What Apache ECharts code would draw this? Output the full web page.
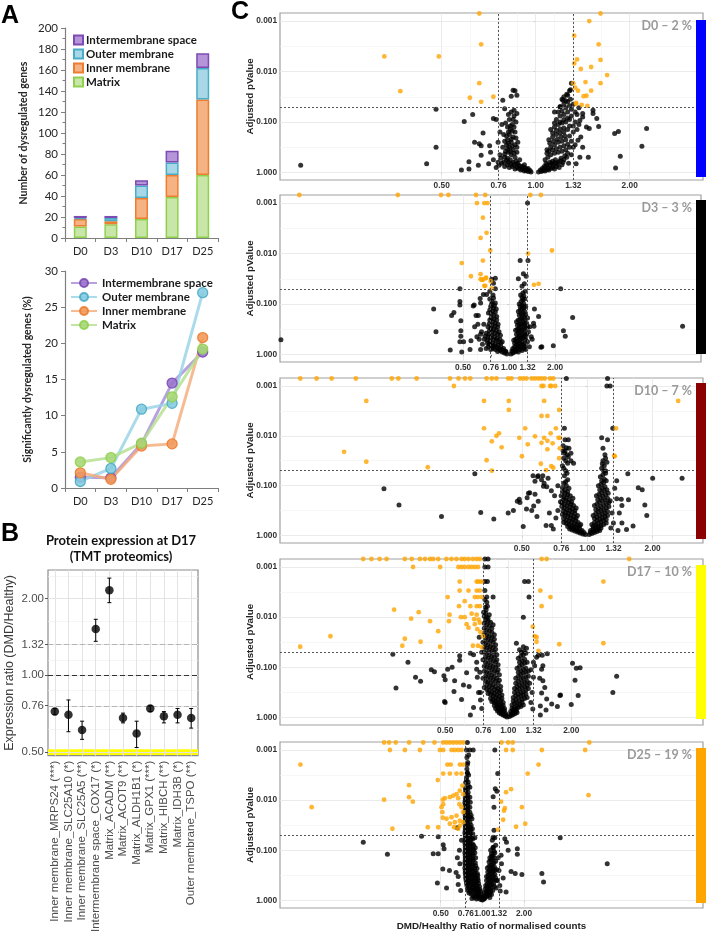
<!DOCTYPE html>
<html><head><meta charset="utf-8">
<script src="https://cdn.jsdelivr.net/npm/echarts@6/dist/echarts.min.js"></script>
<style>html,body{margin:0;padding:0;background:#fff}#c{width:709px;height:935px}</style>
</head><body><div id="c"></div>
<script>
// ================= DATA =================
// Panel A
const days = ['D0','D3','D10','D17','D25'];
const compartments = ['Intermembrane space','Outer membrane','Inner membrane','Matrix'];
const countMatrix = [11,13,18,39,60];
const countInner  = [7,3,20,21,72];
const countOuter  = [1,3,12,12,30];
const countIMS    = [2,2,5,11,14];
const pctIMS    = [1.5,1.4,6.1,14.5,18.8];
const pctOuter  = [0.9,2.7,10.9,11.7,27.0];
const pctInner  = [2.1,1.2,5.8,6.1,20.8];
const pctMatrix = [3.6,4.2,6.2,12.6,19.2];
// Panel B
const proteins = ['Inner membrane_MRPS24 (***)','Inner membrane_SLC25A10 (*)','Inner membrane_SLC25A5 (**)','Intermembrane space_COX17 (*)','Matrix_ACADM (**)','Matrix_ACOT9 (**)','Matrix_ALDH1B1 (*)','Matrix_GPX1 (***)','Matrix_HIBCH (**)','Matrix_IDH3B (*)','Outer membrane_TSPO (**)'];
const protRatio = [0.72,0.70,0.61,1.52,2.16,0.68,0.59,0.74,0.69,0.70,0.68];
const protLow   = [0.70,0.60,0.56,1.36,1.93,0.65,0.52,0.72,0.65,0.65,0.62];
const protHigh  = [0.74,0.80,0.66,1.66,2.41,0.71,0.66,0.76,0.72,0.74,0.74];
const protTicks = [0.5,0.76,1,1.32,2];
// Panel C : points are [log2(DMD/Healthy ratio), -log10(adjusted pValue)]
const ratioTicks = [0.5,0.76,1,1.32,2];
const pTicks = [1,0.1,0.01,0.001];
const d0Sig = [[-0.60,3.15],[0.69,3.15],[0.57,3.0],[0.41,2.71],[-0.58,2.54],[0.67,2.54],[-1.61,2.30],[-1.03,2.30],[0.44,2.24],[0.41,2.16],[0.69,2.23],[0.59,2.09],[0.48,2.05],[0.76,1.93],[-0.60,1.77],[0.40,1.77],[0.53,1.79],[0.69,1.77],[0.42,1.68],[0.45,1.62],[0.59,1.62],[-1.44,1.61],[-0.70,1.48],[-0.45,1.50],[0.51,1.51],[0.54,1.52],[-0.58,1.40],[0.43,1.36],[0.49,1.34],[0.55,1.32],[0.43,1.38]];
const d0NS = [[-2.50,0.14],[-1.06,1.25],[-1.06,0.50],[-1.16,0.17],[-0.76,1.01],[-0.67,1.15],[-0.79,0.05],[-0.71,0.07],[-0.71,0.21],[-0.61,0.14],[-0.65,0.60],[-0.60,0.57],[-0.56,0.78],[-0.58,0.53],[-0.49,0.53],[-0.58,0.34],[-0.50,0.17],[-0.45,1.07],[-0.42,1.05],[-0.38,0.80],[-0.35,1.43],[-0.33,1.26],[-0.24,1.63],[-0.22,1.62],[-0.26,1.51],[-0.20,1.53],[-0.23,1.23],[-0.20,1.17],[1.18,0.87],[1.13,0.52],[0.84,0.77],[0.88,0.81],[0.90,0.32],[0.85,0.09],[0.61,1.23],[0.65,1.07],[0.67,0.91],[0.57,0.87],[0.61,1.17],[0.37,1.64],[0.34,1.53],[0.38,1.77],[0.26,1.30],[0.29,1.43],[0.50,1.17],[0.47,1.03],[0.54,0.90],[0.45,0.64],[0.50,0.50],[0.47,0.30],[0.43,0.17],[0.56,0.30],[0.40,0.50],
[-0.05,0.01],[-0.08,0.02],[-0.10,0.04],[-0.12,0.03],[-0.14,0.06],[-0.16,0.05],[-0.18,0.08],[-0.20,0.10],[-0.22,0.07],[-0.25,0.12],[-0.28,0.10],[-0.30,0.15],[-0.33,0.12],[-0.36,0.18],[-0.40,0.20],[-0.42,0.10],[-0.15,0.12],[-0.20,0.16],[-0.24,0.20],[-0.27,0.25],[-0.30,0.28],[-0.33,0.30],[-0.22,0.30],[-0.26,0.35],[-0.29,0.40],[-0.32,0.42],[-0.24,0.45],[-0.28,0.50],[-0.31,0.55],[-0.22,0.55],[-0.26,0.60],[-0.30,0.65],[-0.24,0.70],[-0.28,0.75],[-0.22,0.80],[-0.27,0.85],[-0.30,0.90],[-0.25,0.95],[-0.21,1.00],[-0.28,1.05],[-0.23,1.12],[-0.26,1.20],[-0.19,0.60],[-0.20,0.40],[-0.35,0.50],[-0.38,0.35],[-0.45,0.25],[-0.48,0.40],[-0.40,0.60],[-0.34,0.75],[-0.36,0.95],[-0.17,0.25],[-0.12,0.15],[-0.08,0.08],
[0.03,0.01],[0.06,0.02],[0.08,0.04],[0.10,0.03],[0.12,0.06],[0.14,0.05],[0.16,0.08],[0.18,0.10],[0.20,0.07],[0.22,0.12],[0.25,0.10],[0.28,0.15],[0.10,0.10],[0.12,0.15],[0.15,0.20],[0.18,0.22],[0.21,0.25],[0.24,0.20],[0.27,0.28],[0.30,0.25],[0.33,0.30],[0.10,0.25],[0.13,0.30],[0.16,0.35],[0.20,0.38],[0.24,0.40],[0.28,0.42],[0.32,0.45],[0.36,0.50],[0.12,0.45],[0.16,0.50],[0.20,0.55],[0.24,0.60],[0.28,0.62],[0.32,0.65],[0.38,0.62],[0.14,0.65],[0.18,0.70],[0.22,0.75],[0.26,0.78],[0.30,0.80],[0.34,0.85],[0.40,0.80],[0.44,0.85],[0.16,0.85],[0.20,0.90],[0.24,0.95],[0.28,0.98],[0.32,1.00],[0.36,1.05],[0.42,1.00],[0.46,0.95],[0.22,1.05],[0.26,1.12],[0.30,1.15],[0.34,1.20],[0.38,1.25],[0.44,1.15],[0.26,1.30],[0.30,1.35],[0.34,1.40],[0.40,1.35],[0.46,1.28],[0.30,1.50],[0.33,1.55],[0.28,1.45],[0.36,1.62],[0.20,1.20],[0.50,1.10],[0.48,0.70],[0.42,0.55],[0.38,0.35],[0.35,0.18]];
const d0Core = [[-0.06,0.04],[-0.09,0.06],[-0.11,0.09],[-0.13,0.11],[-0.17,0.13],[-0.19,0.18],[-0.21,0.22],[-0.23,0.14],[-0.26,0.17],[-0.29,0.20],[-0.31,0.24],[-0.34,0.20],[-0.37,0.28],[-0.39,0.14],[-0.23,0.38],[-0.27,0.42],[-0.30,0.47],[-0.33,0.36],[-0.20,0.50],[-0.25,0.52],[-0.29,0.58],[-0.33,0.62],[-0.21,0.68],[-0.26,0.66],[-0.31,0.72],[-0.25,0.82],[-0.29,0.80],[-0.23,0.90],[-0.27,0.92],[-0.32,0.98],[-0.24,1.05],[-0.29,1.15],
[0.05,0.05],[0.07,0.08],[0.09,0.12],[0.11,0.18],[0.13,0.10],[0.15,0.14],[0.17,0.18],[0.19,0.15],[0.21,0.19],[0.23,0.16],[0.26,0.23],[0.29,0.20],[0.31,0.33],[0.34,0.38],[0.12,0.38],[0.14,0.42],[0.18,0.45],[0.22,0.47],[0.26,0.50],[0.30,0.53],[0.34,0.56],[0.15,0.58],[0.19,0.62],[0.23,0.66],[0.27,0.70],[0.31,0.72],[0.36,0.72],[0.18,0.78],[0.22,0.83],[0.26,0.86],[0.30,0.88],[0.36,0.92],[0.40,0.92],[0.20,0.98],[0.26,1.00],[0.30,1.05],[0.34,1.08],[0.38,1.12],[0.28,1.22],[0.32,1.28],[0.36,1.32],[0.32,1.42],[0.37,1.45],[0.42,1.20],[0.24,1.20]];
const d3Sig = [[-4.56,3.16],[-2.42,3.16],[-1.48,3.16],[-1.32,3.16],[-0.72,3.16],[-0.52,3.16],[0.46,3.16],[0.69,3.16],[-0.70,3.0],[-0.54,3.0],[-0.47,3.0],[-0.57,2.71],[-0.49,2.41],[-0.62,2.31],[-0.41,2.06],[0.93,2.06],[0.41,2.0],[-0.57,1.86],[-1.03,1.81],[-0.83,1.55],[-0.62,1.59],[-0.62,1.49],[-0.57,1.48],[-0.50,1.52],[-0.40,1.45],[-0.52,1.36],[-0.38,1.31],[0.54,1.38],[0.64,1.40],[-0.59,1.48],[-0.51,1.51],[-0.54,1.36]];
const d3NS = [[0.40,3.0],[0.24,1.86],[0.41,1.86],[0.31,1.60],[-0.38,1.49],[-0.30,1.51],[-0.34,1.41],[-1.07,1.30],[1.12,1.30],[-1.64,0.90],[-1.59,0.45],[-1.07,1.05],[-1.07,0.98],[-1.25,0.77],[-1.20,0.83],[-0.78,0.96],[-0.72,0.77],[-0.67,0.77],[-0.63,1.11],[-0.56,1.19],[-0.49,1.19],[1.38,0.73],[1.18,0.47],[1.22,0.36],[3.77,0.56],[-4.96,0.29],[0.64,0.75],[0.54,0.56],[0.71,0.15],[0.96,0.17],[-1.07,0.25],[-0.99,0.25],[-1.28,0.09],[-0.70,0.35],[-0.85,0.10],[-1.03,0.05],[-1.05,0.67],[-1.05,0.47],[-1.05,0.36],[-0.83,0.27],[-0.76,0.98],[-0.62,1.02],[0.69,0.14],[0.53,0.62],[-0.75,0.55],[-0.68,0.60],[-0.62,0.40],[0.50,0.30],[0.55,0.90],
[-0.05,0.01],[-0.10,0.03],[-0.15,0.05],[-0.20,0.08],[-0.25,0.06],[-0.30,0.10],[-0.35,0.12],[-0.40,0.10],[-0.45,0.15],[-0.50,0.12],[-0.12,0.12],[-0.18,0.15],[-0.24,0.18],[-0.30,0.20],[-0.36,0.22],[-0.42,0.25],[-0.48,0.28],[-0.54,0.30],[-0.15,0.25],[-0.20,0.30],[-0.26,0.32],[-0.32,0.35],[-0.38,0.38],[-0.44,0.40],[-0.50,0.42],[-0.22,0.45],[-0.28,0.48],[-0.34,0.50],[-0.40,0.52],[-0.46,0.55],[-0.24,0.60],[-0.30,0.62],[-0.36,0.65],[-0.42,0.68],[-0.27,0.75],[-0.33,0.78],[-0.39,0.80],[-0.45,0.82],[-0.28,0.90],[-0.34,0.92],[-0.40,0.95],[-0.30,1.02],[-0.37,1.05],[-0.42,1.10],[-0.35,1.18],[-0.55,0.60],[-0.60,0.45],[-0.58,0.20],[-0.65,0.30],[-0.62,0.10],[-0.08,0.06],[-0.30,1.30],[-0.42,1.25],
[0.04,0.01],[0.08,0.03],[0.12,0.05],[0.16,0.07],[0.20,0.05],[0.24,0.10],[0.28,0.08],[0.32,0.12],[0.36,0.10],[0.08,0.12],[0.12,0.15],[0.16,0.18],[0.20,0.20],[0.24,0.22],[0.28,0.25],[0.32,0.20],[0.36,0.28],[0.40,0.25],[0.10,0.28],[0.14,0.30],[0.18,0.33],[0.22,0.36],[0.26,0.38],[0.30,0.40],[0.34,0.42],[0.38,0.40],[0.42,0.45],[0.14,0.48],[0.18,0.50],[0.22,0.52],[0.26,0.55],[0.30,0.58],[0.34,0.60],[0.38,0.62],[0.16,0.65],[0.20,0.68],[0.24,0.70],[0.28,0.72],[0.32,0.75],[0.36,0.78],[0.40,0.72],[0.20,0.85],[0.24,0.88],[0.28,0.90],[0.32,0.92],[0.36,0.95],[0.22,1.00],[0.26,1.05],[0.30,1.08],[0.34,1.10],[0.25,1.18],[0.30,1.22],[0.35,1.25],[0.28,1.35],[0.33,1.40],[0.20,1.50],[0.37,1.55],[0.45,0.55],[0.48,0.35],[0.44,0.15]];
const d3Core = [[-0.07,0.06],[-0.12,0.08],[-0.17,0.10],[-0.22,0.12],[-0.27,0.14],[-0.33,0.16],[-0.38,0.17],[-0.43,0.20],[-0.47,0.22],[-0.18,0.22],[-0.23,0.25],[-0.28,0.28],[-0.34,0.29],[-0.40,0.32],[-0.46,0.34],[-0.52,0.36],[-0.19,0.38],[-0.25,0.40],[-0.31,0.42],[-0.37,0.45],[-0.43,0.47],[-0.25,0.54],[-0.31,0.56],[-0.37,0.58],[-0.43,0.61],[-0.27,0.68],[-0.33,0.70],[-0.39,0.72],[-0.30,0.84],[-0.36,0.86],[-0.42,0.88],[-0.32,0.97],[-0.38,1.00],[-0.34,1.12],
[0.06,0.07],[0.10,0.08],[0.14,0.10],[0.18,0.12],[0.22,0.15],[0.26,0.16],[0.30,0.18],[0.34,0.16],[0.12,0.22],[0.16,0.25],[0.20,0.27],[0.24,0.30],[0.28,0.32],[0.32,0.34],[0.36,0.35],[0.16,0.40],[0.20,0.43],[0.24,0.46],[0.28,0.48],[0.32,0.50],[0.36,0.52],[0.40,0.55],[0.18,0.58],[0.22,0.60],[0.26,0.62],[0.30,0.66],[0.34,0.68],[0.22,0.78],[0.26,0.80],[0.30,0.82],[0.34,0.85],[0.24,0.95],[0.28,0.97],[0.32,1.00],[0.28,1.13],[0.32,1.16]];
const d10Sig = [[-4.39,3.15],[-4.14,3.15],[-3.91,3.15],[-3.54,3.15],[-2.99,3.15],[-2.89,3.15],[-2.61,3.15],[-2.10,3.15],[-1.97,3.15],[-1.87,3.15],[-1.79,3.15],[-1.54,3.15],[-1.46,3.15],[-1.39,3.15],[-1.21,3.15],[-1.16,3.15],[-1.03,3.15],[-0.98,3.15],[-0.93,3.15],[-0.85,3.15],[-0.80,3.15],[-0.75,3.15],[-0.70,3.15],[-0.65,3.15],[-0.57,3.15],[-0.52,3.15],[-2.04,3.0],[-0.70,3.0],[-0.67,3.0],[-0.57,3.0],[-0.55,3.0],[-0.49,3.0],[-3.38,2.70],[-1.58,2.70],[-1.20,2.70],[-0.66,2.70],[1.39,2.70],[-1.20,2.52],[-0.43,2.52],[-0.70,2.40],[-0.61,2.40],[-1.58,2.15],[-0.95,2.15],[-0.48,2.15],[0.44,2.15],[-1.35,2.05],[-1.39,2.0],[-1.46,1.89],[-1.31,1.77],[-1.04,1.96],[-0.91,1.83],[-0.80,1.99],[-0.70,1.86],[-0.66,1.96],[-0.61,1.90],[-0.53,1.85],[-0.61,1.73],[-0.56,2.05],[-0.42,1.96],[-0.44,1.96],[-0.42,1.75],[-0.43,1.55],[-1.0,1.59],[-1.54,1.51],[-3.72,1.68],[-3.38,1.48],[-2.44,1.37],[-0.71,1.44],[-0.55,1.39],[-0.52,1.36],[-0.63,1.31],[-1.46,1.30],[0.42,1.59],[0.41,1.60]];
const d10NS = [[-0.32,3.15],[0.31,3.15],[0.30,3.0],[0.35,3.0],[-0.35,2.15],[0.39,2.15],[-0.34,1.92],[-0.29,1.92],[-0.32,1.76],[0.22,1.96],[0.31,1.92],[0.24,1.75],[-0.37,1.70],[-0.25,1.65],[-0.21,1.45],[0.30,1.47],[0.28,1.30],[-1.72,1.24],[-3.11,0.94],[-2.88,0.61],[-2.23,0.38],[-1.63,0.46],[-1.43,0.33],[-1.21,0.45],[0.62,1.24],[1.0,1.15],[1.45,1.15],[-0.83,1.20],[-0.75,1.20],[-0.68,1.20],[-0.60,1.15],[-0.67,0.99],[-0.80,0.83],[-0.90,0.85],[-1.03,0.66],[-1.13,0.50],[-1.07,0.69],[-1.04,0.73],[-0.98,0.18],[-0.92,0.76],[-0.93,0.53],[-0.85,0.50],[-0.82,0.59],[-0.77,0.38],[-0.75,0.69],[-0.88,0.86],[-0.80,1.09],[-0.76,1.18],[-0.70,1.12],[-0.66,1.05],[-0.62,0.98],[-0.63,0.20],[-0.52,0.13],[-0.58,0.45],[-0.55,0.90],[0.78,0.96],[0.84,0.92],[0.88,0.61],[0.91,0.40],[0.45,0.74],[0.52,0.73],[0.53,0.60],[0.63,0.72],[0.49,0.45],[0.53,0.25],[0.60,0.12],[0.70,0.19],[0.47,0.10],[0.42,0.95],[0.45,1.10],
[-0.03,0.02],[-0.07,0.03],[-0.11,0.05],[-0.15,0.07],[-0.19,0.09],[-0.23,0.11],[-0.27,0.13],[-0.08,0.10],[-0.12,0.14],[-0.16,0.16],[-0.20,0.18],[-0.24,0.20],[-0.28,0.22],[-0.32,0.24],[-0.36,0.26],[-0.10,0.22],[-0.14,0.26],[-0.18,0.30],[-0.22,0.32],[-0.26,0.35],[-0.30,0.38],[-0.34,0.40],[-0.38,0.42],[-0.15,0.40],[-0.19,0.44],[-0.23,0.47],[-0.27,0.50],[-0.31,0.52],[-0.35,0.55],[-0.39,0.58],[-0.17,0.55],[-0.21,0.60],[-0.25,0.63],[-0.29,0.66],[-0.33,0.70],[-0.37,0.72],[-0.41,0.68],[-0.22,0.75],[-0.26,0.80],[-0.30,0.82],[-0.34,0.85],[-0.38,0.88],[-0.28,0.95],[-0.32,1.00],[-0.36,1.05],[-0.30,1.12],[-0.35,1.20],[-0.33,1.30],[-0.38,1.40],[-0.30,1.45],[-0.36,1.55],[-0.31,1.62],[-0.25,1.50],[-0.34,1.70],[-0.28,1.75],[-0.37,1.80],[-0.45,0.50],[-0.48,0.35],[-0.50,0.80],[-0.45,1.00],[-0.55,0.20],
[0.03,0.02],[0.07,0.04],[0.11,0.06],[0.15,0.08],[0.19,0.10],[0.05,0.10],[0.09,0.13],[0.13,0.16],[0.17,0.18],[0.21,0.20],[0.25,0.22],[0.29,0.25],[0.07,0.22],[0.11,0.26],[0.15,0.30],[0.19,0.32],[0.23,0.35],[0.27,0.38],[0.31,0.40],[0.09,0.40],[0.13,0.44],[0.17,0.47],[0.21,0.50],[0.25,0.52],[0.29,0.55],[0.33,0.58],[0.11,0.60],[0.15,0.63],[0.19,0.66],[0.23,0.70],[0.27,0.72],[0.31,0.75],[0.35,0.70],[0.14,0.80],[0.18,0.83],[0.22,0.86],[0.26,0.90],[0.30,0.92],[0.17,1.00],[0.21,1.03],[0.25,1.06],[0.29,1.10],[0.20,1.18],[0.24,1.22],[0.28,1.25],[0.22,1.35],[0.26,1.40],[0.24,1.50],[0.28,1.55],[0.27,1.62],[0.38,0.45],[0.40,0.25],[0.36,0.15]];
const d10Core = [[-0.05,0.06],[-0.09,0.07],[-0.13,0.09],[-0.17,0.12],[-0.21,0.14],[-0.25,0.16],[-0.30,0.18],[-0.12,0.19],[-0.16,0.22],[-0.20,0.24],[-0.24,0.27],[-0.28,0.29],[-0.32,0.31],[-0.36,0.33],[-0.17,0.35],[-0.21,0.38],[-0.25,0.41],[-0.29,0.44],[-0.33,0.46],[-0.37,0.49],[-0.19,0.50],[-0.23,0.54],[-0.27,0.57],[-0.31,0.60],[-0.35,0.62],[-0.39,0.65],[-0.24,0.68],[-0.28,0.72],[-0.32,0.76],[-0.36,0.78],[-0.40,0.80],[-0.30,0.88],[-0.34,0.92],[-0.38,0.96],[-0.33,1.08],[-0.31,1.25],[-0.36,1.35],[-0.33,1.50],[-0.29,1.58],[-0.35,1.65],
[0.05,0.06],[0.09,0.08],[0.13,0.11],[0.17,0.13],[0.21,0.15],[0.09,0.18],[0.13,0.21],[0.17,0.24],[0.21,0.27],[0.25,0.30],[0.29,0.32],[0.11,0.34],[0.15,0.37],[0.19,0.40],[0.23,0.43],[0.27,0.45],[0.31,0.48],[0.13,0.52],[0.17,0.55],[0.21,0.58],[0.25,0.61],[0.29,0.64],[0.33,0.66],[0.16,0.72],[0.20,0.76],[0.24,0.79],[0.28,0.82],[0.32,0.85],[0.19,0.92],[0.23,0.95],[0.27,0.98],[0.22,1.10],[0.26,1.13],[0.25,1.30],[0.23,1.44]];
const d17Sig = [[-2.30,3.16],[-2.17,3.16],[-2.04,3.16],[-1.93,3.16],[-1.64,3.16],[-1.53,3.16],[-1.40,3.16],[-1.32,3.16],[-1.24,3.16],[-1.19,3.16],[-1.11,3.16],[-0.98,3.16],[-0.90,3.16],[-0.82,3.16],[-0.74,3.16],[-0.69,3.16],[-0.63,3.16],[-0.56,3.16],[-0.50,3.16],[-0.45,3.16],[0.53,3.16],[0.61,3.16],[1.92,3.16],[-1.51,3.0],[-1.08,3.0],[-0.79,3.0],[-0.74,3.0],[-0.69,3.0],[-0.63,3.0],[-0.58,3.0],[-0.53,3.0],[-0.48,3.0],[-0.77,2.71],[-0.50,2.71],[-0.48,2.71],[-0.45,2.71],[-0.42,2.71],[1.51,2.71],[-0.77,2.53],[-0.63,2.53],[-0.50,2.53],[-0.45,2.53],[0.51,2.53],[-0.96,2.40],[-0.53,2.40],[-0.48,2.40],[-0.42,2.40],[0.67,2.40],[-0.69,2.32],[-0.78,2.22],[-0.60,2.22],[-0.50,2.22],[-0.45,2.22],[0.53,2.22],[-1.81,2.15],[-0.93,2.05],[-0.75,2.0],[-0.69,2.0],[-0.58,2.07],[-0.50,2.05],[-0.54,1.96],[-0.47,1.95],[-1.42,2.10],[-1.54,1.97],[-1.24,1.92],[-0.66,1.86],[-0.53,1.86],[-0.45,1.89],[-0.63,1.79],[-0.49,1.76],[-1.11,1.72],[-0.44,1.70],[-2.82,1.62],[-1.64,1.57],[-1.39,1.51],[-1.68,1.43],[-1.08,1.41],[-3.30,1.41],[-0.56,1.43],[-0.48,1.43],[-0.42,1.40],[0.39,1.81],[0.42,1.62],[0.45,1.60],[0.81,1.46],[1.51,1.48],[0.48,1.33],[-0.94,1.92],[-0.40,1.62],[0.45,1.51]];
const d17NS = [[-0.37,3.16],[-0.32,3.16],[-0.37,3.0],[-0.32,3.0],[-0.37,2.71],[-0.33,2.71],[0.26,2.71],[0.32,2.71],[-0.37,2.53],[-0.34,2.40],[-0.24,2.40],[0.33,2.40],[0.24,2.0],[-1.83,1.26],[-1.59,1.10],[-1.47,0.80],[-1.39,0.72],[-1.78,0.59],[-1.22,0.95],[-1.17,0.91],[-1.02,0.83],[-1.0,0.75],[-0.96,0.96],[-0.89,1.0],[-0.85,0.73],[-0.86,0.52],[-1.0,0.30],[-0.74,0.36],[-0.77,1.23],[-0.77,1.14],[-0.71,0.65],[-0.66,0.89],[-0.62,0.62],[-0.50,1.10],[-0.50,0.96],[-0.49,0.80],[-0.47,0.50],[-0.44,0.35],[-0.42,0.18],[-0.55,1.25],[-0.60,1.28],[1.02,1.08],[1.08,0.98],[1.14,0.99],[1.06,0.74],[1.11,0.44],[1.0,0.26],[0.82,0.44],[0.78,0.22],[0.69,0.27],[1.66,0.50],[1.72,0.82],[0.50,0.78],[0.53,0.96],[0.55,0.73],[0.58,0.60],[0.53,0.49],[0.61,0.37],[0.51,0.23],[0.51,0.05],[0.42,1.03],[0.55,1.03],[0.48,1.24],[0.54,1.24],[0.62,1.27],[0.45,1.20],[0.40,1.10],[0.36,0.95],[0.60,0.15],[-0.55,0.20],[-0.60,0.05],[-1.01,0.32],[0.83,0.45],[0.39,0.17],
[-0.02,0.01],[-0.05,0.03],[-0.08,0.05],[-0.11,0.07],[-0.14,0.09],[-0.04,0.08],[-0.08,0.12],[-0.12,0.14],[-0.16,0.16],[-0.20,0.18],[-0.06,0.18],[-0.10,0.21],[-0.14,0.24],[-0.18,0.27],[-0.22,0.30],[-0.26,0.32],[-0.08,0.30],[-0.12,0.34],[-0.16,0.37],[-0.20,0.40],[-0.24,0.43],[-0.28,0.46],[-0.32,0.48],[-0.10,0.45],[-0.14,0.50],[-0.18,0.53],[-0.22,0.56],[-0.26,0.60],[-0.30,0.62],[-0.34,0.65],[-0.38,0.60],[-0.12,0.62],[-0.16,0.68],[-0.20,0.72],[-0.24,0.75],[-0.28,0.78],[-0.32,0.80],[-0.36,0.82],[-0.40,0.78],[-0.14,0.85],[-0.18,0.90],[-0.22,0.92],[-0.26,0.95],[-0.30,0.98],[-0.34,1.00],[-0.38,1.02],[-0.16,1.05],[-0.20,1.10],[-0.24,1.12],[-0.28,1.15],[-0.32,1.18],[-0.36,1.20],[-0.40,1.15],[-0.18,1.25],[-0.22,1.30],[-0.26,1.32],[-0.30,1.35],[-0.34,1.38],[-0.38,1.40],[-0.20,1.45],[-0.24,1.50],[-0.28,1.52],[-0.32,1.55],[-0.36,1.58],[-0.40,1.50],[-0.22,1.65],[-0.26,1.70],[-0.30,1.72],[-0.34,1.75],[-0.38,1.78],[-0.24,1.85],[-0.28,1.90],[-0.32,1.92],[-0.36,1.95],[-0.30,2.05],[-0.34,2.00],[-0.38,2.02],[-0.36,2.20],[-0.34,2.30],[-0.39,2.10],[-0.42,1.30],[-0.45,0.90],[-0.44,0.50],[-0.46,1.60],
[0.02,0.02],[0.05,0.04],[0.08,0.06],[0.11,0.08],[0.14,0.10],[0.04,0.12],[0.08,0.15],[0.12,0.17],[0.16,0.20],[0.20,0.22],[0.24,0.25],[0.06,0.25],[0.10,0.28],[0.14,0.30],[0.18,0.33],[0.22,0.36],[0.26,0.38],[0.30,0.40],[0.08,0.40],[0.12,0.44],[0.16,0.47],[0.20,0.50],[0.24,0.52],[0.28,0.55],[0.32,0.58],[0.10,0.58],[0.14,0.62],[0.18,0.65],[0.22,0.68],[0.26,0.70],[0.30,0.72],[0.34,0.68],[0.12,0.78],[0.16,0.82],[0.20,0.85],[0.24,0.88],[0.28,0.90],[0.32,0.92],[0.14,0.98],[0.18,1.02],[0.22,1.05],[0.26,1.08],[0.30,1.10],[0.16,1.18],[0.20,1.22],[0.24,1.25],[0.28,1.28],[0.13,1.48],[0.24,1.41],[0.29,1.38],[0.18,1.35],[0.36,0.30],[0.38,0.50],[0.40,0.80]];
const d17Core = [[-0.04,0.05],[-0.07,0.07],[-0.10,0.10],[-0.13,0.12],[-0.17,0.13],[-0.06,0.14],[-0.10,0.17],[-0.14,0.20],[-0.18,0.22],[-0.22,0.24],[-0.08,0.24],[-0.12,0.27],[-0.16,0.30],[-0.20,0.33],[-0.24,0.36],[-0.28,0.38],[-0.10,0.38],[-0.14,0.42],[-0.18,0.45],[-0.22,0.48],[-0.26,0.51],[-0.30,0.54],[-0.34,0.56],[-0.12,0.54],[-0.16,0.58],[-0.20,0.62],[-0.24,0.66],[-0.28,0.69],[-0.32,0.71],[-0.36,0.72],[-0.14,0.74],[-0.18,0.78],[-0.22,0.82],[-0.26,0.85],[-0.30,0.88],[-0.34,0.90],[-0.38,0.92],[-0.16,0.95],[-0.20,1.00],[-0.24,1.02],[-0.28,1.05],[-0.32,1.08],[-0.36,1.10],[-0.18,1.15],[-0.22,1.20],[-0.26,1.22],[-0.30,1.25],[-0.34,1.28],[-0.38,1.30],[-0.20,1.36],[-0.24,1.40],[-0.28,1.42],[-0.32,1.45],[-0.36,1.48],[-0.22,1.56],[-0.26,1.60],[-0.30,1.62],[-0.34,1.65],[-0.38,1.68],[-0.26,1.78],[-0.30,1.82],[-0.34,1.85],[-0.38,1.88],[-0.32,1.98],[-0.36,2.08],[-0.35,2.15],[-0.33,2.22],[-0.37,2.35],
[0.04,0.07],[0.07,0.09],[0.10,0.12],[0.13,0.14],[0.06,0.18],[0.10,0.20],[0.14,0.23],[0.18,0.26],[0.22,0.30],[0.08,0.33],[0.12,0.36],[0.16,0.40],[0.20,0.43],[0.24,0.45],[0.28,0.47],[0.10,0.50],[0.14,0.54],[0.18,0.57],[0.22,0.60],[0.26,0.62],[0.30,0.64],[0.12,0.68],[0.16,0.72],[0.20,0.76],[0.24,0.78],[0.28,0.80],[0.32,0.82],[0.16,0.90],[0.20,0.93],[0.24,0.96],[0.28,0.98],[0.18,1.10],[0.22,1.13],[0.26,1.16],[0.21,1.30],[0.25,1.32]];
const d25Sig = [[-2.36,3.15],[-2.24,3.15],[-2.08,3.15],[-1.76,3.15],[-1.42,3.15],[-1.15,3.15],[-0.94,3.15],[-0.86,3.15],[-0.78,3.15],[-0.70,3.15],[-0.62,3.15],[-0.54,3.15],[-0.46,3.15],[0.46,3.15],[0.62,3.15],[0.73,3.15],[2.57,3.15],[-2.22,3.0],[-1.86,3.0],[-1.50,3.0],[-1.02,3.0],[-0.94,3.0],[-0.74,3.0],[-0.66,3.0],[-0.58,3.0],[-0.50,3.0],[0.57,3.0],[0.73,3.0],[1.43,3.0],[2.47,3.0],[-4.37,2.71],[1.35,2.71],[-0.84,2.71],[-0.76,2.71],[-0.54,2.71],[-0.46,2.71],[-0.94,2.53],[-0.78,2.53],[-0.62,2.53],[-0.50,2.53],[1.09,2.53],[-1.07,2.40],[-1.76,2.30],[0.69,2.22],[0.57,2.16],[2.55,2.10],[-0.48,2.29],[-0.54,2.19],[-0.62,2.12],[-0.70,2.09],[-0.78,2.06],[-0.90,2.04],[-0.95,2.01],[-0.46,2.12],[-0.58,2.04],[-1.76,2.06],[-1.67,1.97],[-2.36,2.01],[-4.10,1.86],[0.45,1.97],[0.54,1.84],[0.52,1.79],[0.95,1.86],[-0.98,1.86],[-0.94,1.92],[-0.96,1.76],[-0.86,1.63],[-0.95,1.65],[-0.74,1.66],[-0.62,1.69],[-0.54,1.59],[-0.46,1.56],[-0.54,1.49],[-0.68,1.46],[-0.58,1.43],[-0.50,1.86],[-0.55,1.92],[-0.46,1.76],[-0.66,1.56],[-0.78,1.53],[0.50,1.61],[0.81,1.47],[1.03,1.53],[-2.16,1.43],[-1.31,1.46],[-1.06,1.46],[0.38,1.41]];
const d25NS = [[-0.36,3.15],[-0.38,3.0],[-0.30,3.0],[-0.22,3.0],[0.30,3.0],[-0.36,2.71],[-0.36,2.53],[0.37,2.53],[0.26,2.07],[0.28,1.86],[0.31,2.23],[0.35,2.18],[-1.46,1.28],[-1.06,1.27],[-2.86,1.16],[-2.28,0.92],[1.87,1.25],[3.0,0.73],[-0.94,1.11],[-0.92,1.03],[-1.18,0.93],[-1.06,0.93],[-0.95,0.63],[-0.79,0.60],[-1.08,0.35],[-0.86,0.25],[-0.58,0.48],[-0.58,0.32],[-0.63,0.56],[-0.54,0.73],[-0.60,0.85],[-0.55,1.00],[-0.50,1.20],[-0.52,0.20],[0.26,1.26],[0.26,1.06],[0.54,1.23],[0.58,1.16],[0.62,1.00],[0.84,1.03],[0.84,0.92],[0.69,0.58],[0.79,0.54],[0.95,0.52],[1.43,0.54],[1.47,0.37],[0.46,0.73],[0.34,0.40],[0.57,0.17],[0.43,0.19],[0.18,0.13],[-0.60,1.45],[0.50,0.45],[0.45,0.90],
[-0.25,0.04],[-0.19,0.06],[-0.14,0.03],[-0.09,0.05],[-0.04,0.02],[0.0,0.01],[0.04,0.03],[-0.32,0.15],[-0.27,0.13],[-0.21,0.16],[-0.15,0.14],[-0.09,0.15],[-0.03,0.12],[-0.36,0.25],[-0.30,0.23],[-0.24,0.26],[-0.18,0.24],[-0.12,0.25],[-0.06,0.22],[-0.38,0.35],[-0.33,0.34],[-0.27,0.36],[-0.21,0.33],[-0.15,0.35],[-0.09,0.34],[-0.40,0.45],[-0.35,0.44],[-0.29,0.46],[-0.23,0.43],[-0.17,0.45],[-0.11,0.44],[-0.41,0.55],[-0.36,0.54],[-0.30,0.56],[-0.24,0.53],[-0.18,0.55],[-0.12,0.54],[-0.42,0.65],[-0.37,0.64],[-0.31,0.66],[-0.25,0.63],[-0.19,0.65],[-0.13,0.64],[-0.42,0.75],[-0.36,0.74],[-0.30,0.76],[-0.24,0.73],[-0.17,0.75],[-0.41,0.85],[-0.35,0.84],[-0.29,0.86],[-0.23,0.83],[-0.16,0.85],[-0.42,0.95],[-0.36,0.94],[-0.30,0.96],[-0.24,0.93],[-0.18,0.95],[-0.41,1.05],[-0.35,1.04],[-0.29,1.06],[-0.23,1.03],[-0.17,1.05],[-0.42,1.15],[-0.36,1.14],[-0.30,1.16],[-0.24,1.13],[-0.41,1.25],[-0.35,1.24],[-0.29,1.26],[-0.23,1.23],[-0.18,1.25],[-0.42,1.35],[-0.36,1.34],[-0.30,1.36],[-0.23,1.33],[-0.41,1.45],[-0.35,1.44],[-0.29,1.46],[-0.24,1.43],[-0.42,1.55],[-0.36,1.54],[-0.30,1.56],[-0.41,1.65],[-0.35,1.64],[-0.29,1.66],[-0.25,1.63],[-0.42,1.75],[-0.36,1.74],[-0.30,1.76],[-0.41,1.85],[-0.35,1.84],[-0.30,1.86],[-0.42,1.95],[-0.36,1.94],[-0.29,1.96],[-0.41,2.05],[-0.35,2.04],[-0.30,2.06],[-0.40,2.15],[-0.34,2.16],[-0.41,2.25],[-0.35,2.24],[-0.30,2.26],[-0.40,2.35],[-0.34,2.36],[-0.38,2.45],[-0.33,2.50],[-0.37,2.62],[-0.37,2.85],[-0.33,2.90],
[0.02,0.03],[0.06,0.05],[0.10,0.08],[0.14,0.10],[0.18,0.06],[0.22,0.12],[0.05,0.15],[0.09,0.18],[0.13,0.20],[0.17,0.22],[0.21,0.25],[0.25,0.20],[0.29,0.28],[0.33,0.25],[0.08,0.30],[0.12,0.33],[0.16,0.36],[0.20,0.38],[0.24,0.40],[0.28,0.42],[0.32,0.45],[0.36,0.40],[0.10,0.48],[0.14,0.50],[0.18,0.53],[0.22,0.56],[0.26,0.58],[0.30,0.60],[0.34,0.62],[0.12,0.65],[0.16,0.68],[0.20,0.70],[0.24,0.72],[0.28,0.75],[0.32,0.78],[0.18,0.85],[0.22,0.88],[0.26,0.90],[0.30,0.95],[0.20,1.00],[0.26,1.05],[0.32,1.10],[0.24,1.20],[0.30,1.25],[0.28,1.40],[0.38,0.85],[0.40,0.60],[0.42,0.30]];
const d25Core = [[-0.22,0.09],[-0.16,0.10],[-0.11,0.10],[-0.06,0.08],[-0.01,0.07],[-0.34,0.20],[-0.28,0.19],[-0.22,0.21],[-0.16,0.20],[-0.10,0.19],[-0.04,0.18],[-0.37,0.30],[-0.31,0.29],[-0.25,0.31],[-0.19,0.30],[-0.13,0.29],[-0.07,0.28],[-0.39,0.40],[-0.33,0.39],[-0.27,0.41],[-0.21,0.40],[-0.15,0.39],[-0.10,0.40],[-0.40,0.50],[-0.34,0.49],[-0.28,0.51],[-0.22,0.50],[-0.16,0.49],[-0.11,0.50],[-0.41,0.60],[-0.35,0.59],[-0.29,0.61],[-0.23,0.60],[-0.17,0.59],[-0.41,0.70],[-0.35,0.69],[-0.29,0.71],[-0.23,0.70],[-0.16,0.69],[-0.41,0.80],[-0.35,0.79],[-0.29,0.81],[-0.22,0.80],[-0.41,0.90],[-0.35,0.89],[-0.29,0.91],[-0.22,0.90],[-0.41,1.00],[-0.35,0.99],[-0.29,1.01],[-0.21,1.00],[-0.41,1.10],[-0.35,1.09],[-0.29,1.11],[-0.21,1.10],[-0.41,1.20],[-0.35,1.19],[-0.28,1.21],[-0.41,1.30],[-0.35,1.29],[-0.28,1.31],[-0.41,1.40],[-0.35,1.39],[-0.28,1.41],[-0.41,1.50],[-0.35,1.49],[-0.27,1.50],[-0.41,1.60],[-0.35,1.59],[-0.41,1.70],[-0.35,1.69],[-0.27,1.70],[-0.41,1.80],[-0.35,1.79],[-0.41,1.90],[-0.35,1.89],[-0.41,2.00],[-0.35,1.99],[-0.40,2.10],[-0.35,2.10],[-0.40,2.20],[-0.34,2.30],[-0.38,2.40],[-0.36,2.55],[-0.35,2.75],
[0.04,0.08],[0.08,0.11],[0.12,0.14],[0.16,0.16],[0.20,0.18],[0.07,0.23],[0.11,0.26],[0.15,0.28],[0.19,0.30],[0.23,0.32],[0.27,0.34],[0.10,0.40],[0.14,0.43],[0.18,0.45],[0.22,0.47],[0.26,0.50],[0.30,0.52],[0.13,0.57],[0.17,0.60],[0.21,0.63],[0.25,0.65],[0.29,0.67],[0.16,0.77],[0.20,0.80],[0.24,0.82],[0.28,0.85],[0.22,0.93],[0.28,0.98]];
const volcanoLabels = ['D0 \u2013 2 %','D3 \u2013 3 %','D10 \u2013 7 %','D17 \u2013 10 %','D25 \u2013 19 %'];

// ================= LAYOUT / STYLE =================
const L2 = Math.log2;
const FA = 'Lato, "Open Sans", sans-serif';
const FR = '"Liberation Sans", Arial, sans-serif';
const barFill = ['#b595d8','#a8d8e8','#f5b283','#c8e6a8'];
const barEdge = ['#7d4bb3','#4bacc6','#ed7d31','#8fd14f'];
const lineCol = ['rgba(160,130,215,0.75)','rgba(150,210,230,0.8)','rgba(244,170,120,0.8)','rgba(180,222,140,0.8)'];
const dotFill = ['#9a74cd','#86cbe0','#f29a5c','#aad779'];
const vol = [
  {sig:d0Sig, ns:d0NS.concat(d0Core), xmin:-2.72, xmax:1.78, grid:{left:280,top:13,width:423,height:167}, bar:'#0000ff', bt:20, bb:177},
  {sig:d3Sig, ns:d3NS.concat(d3Core), xmin:-4.98, xmax:4.17, grid:{left:280,top:195,width:421,height:167}, bar:'#000000', bt:200, bb:354},
  {sig:d10Sig, ns:d10NS.concat(d10Core), xmin:-4.70, xmax:1.77, grid:{left:280,top:378,width:423,height:165}, bar:'#8b0000', bt:383, bb:539},
  {sig:d17Sig, ns:d17NS.concat(d17Core), xmin:-3.62, xmax:3.09, grid:{left:280,top:559,width:423,height:166}, bar:'#ffff00', bt:565, bb:719},
  {sig:d25Sig, ns:d25NS.concat(d25Core), xmin:-4.86, xmax:5.30, grid:{left:280,top:742,width:423,height:166}, bar:'#ffa500', bt:748, bb:903}
];

const grids = [
  {left:65, top:28, width:153, height:210},
  {left:65, top:271, width:153, height:217},
  {left:48, top:570, width:150, height:194, show:true, borderColor:'#8c8c8c', borderWidth:1.2, backgroundColor:'#fff'}
];
vol.forEach(v => grids.push(Object.assign({show:true, borderColor:'#a0a0a0', borderWidth:1.2, backgroundColor:'#fff'}, v.grid)));

const xAxes = [], yAxes = [], series = [];
const catAxisA = gi => ({type:'category', gridIndex:gi, data:days, boundaryGap:true,
  axisLine:{lineStyle:{color:'#7f7f7f', width:1.2}}, axisTick:{show:true, alignWithLabel:false, length:4, lineStyle:{color:'#7f7f7f'}},
  axisLabel:{color:'#262626', fontFamily:FA, fontSize:11, margin:8}});
xAxes.push(catAxisA(0)); xAxes.push(catAxisA(1));
yAxes.push({type:'value', gridIndex:0, min:0, max:200, interval:20, name:'Number of dysregulated genes', nameLocation:'middle', nameGap:36, nameRotate:90, nameMoveOverlap:false,
  nameTextStyle:{fontFamily:FA, fontWeight:'bold', fontSize:10.5, color:'#262626'},
  axisLine:{show:true, lineStyle:{color:'#7f7f7f', width:1.2}}, axisTick:{show:true, length:4, lineStyle:{color:'#7f7f7f'}},
  minorTick:{show:true, splitNumber:2, length:2.5, lineStyle:{color:'#7f7f7f'}},
  splitLine:{show:false}, axisLabel:{color:'#262626', fontFamily:FA, fontSize:11.5, margin:7}});
yAxes.push({type:'value', gridIndex:1, min:0, max:30, interval:5, name:'Significantly dysregulated genes (%)', nameLocation:'middle', nameGap:32, nameRotate:90, nameMoveOverlap:false,
  nameTextStyle:{fontFamily:FA, fontWeight:'bold', fontSize:10.5, color:'#262626'},
  axisLine:{show:true, lineStyle:{color:'#7f7f7f', width:1.2}}, axisTick:{show:true, length:4, lineStyle:{color:'#7f7f7f'}},
  splitLine:{show:false}, axisLabel:{color:'#262626', fontFamily:FA, fontSize:11.5, margin:7}});

// Panel A bars (stack bottom -> top: Matrix, Inner, Outer, IMS)
const barSets = [[countMatrix,3,'Matrix'],[countInner,2,'Inner membrane'],[countOuter,1,'Outer membrane'],[countIMS,0,'Intermembrane space']];
barSets.forEach(([d,ci,name]) => series.push({type:'bar', name:name, xAxisIndex:0, yAxisIndex:0, stack:'n', data:d, barWidth:13,
  itemStyle:{color:barFill[ci], borderColor:barEdge[ci], borderWidth:1.5}, silent:true}));
// Panel A lines
const lineSets = [[pctIMS,0],[pctOuter,1],[pctInner,2],[pctMatrix,3]];
lineSets.forEach(([d,ci]) => series.push({type:'line', name:compartments[ci]+' %', xAxisIndex:1, yAxisIndex:1, data:d,
  symbol:'circle', symbolSize:10, lineStyle:{color:lineCol[ci], width:3},
  itemStyle:{color:dotFill[ci], borderColor:barEdge[ci], borderWidth:1.3, opacity:0.9}, silent:true}));

// Panel B
xAxes.push({type:'category', gridIndex:2, data:proteins, boundaryGap:true,
  axisLine:{show:false}, axisTick:{show:true, alignWithLabel:true, length:3, lineStyle:{color:'#555'}},
  axisLabel:{interval:0, rotate:90, color:'#4d4d4d', fontFamily:FR, fontSize:11.5, margin:5}, splitLine:{show:false}});
yAxes.push({type:'value', gridIndex:2, min:-1.05, max:1.375, name:'Expression ratio (DMD/Healthy)', nameLocation:'middle', nameGap:32, nameRotate:90,
  nameTextStyle:{fontFamily:FR, fontSize:12.5, color:'#3a3a3a'},
  axisLine:{show:false}, axisTick:{show:true, length:3, customValues:protTicks.map(L2), lineStyle:{color:'#555'}},
  axisLabel:{customValues:protTicks.map(L2), formatter:v=>Math.pow(2,v).toFixed(2), color:'#4d4d4d', fontFamily:FR, fontSize:11.5, margin:4},
  splitLine:{show:false}});
const bMinor = [-0.70,-0.20,0.20,0.70,1.29];
series.push({type:'scatter', xAxisIndex:2, yAxisIndex:2, data:[], silent:true,
  markLine:{silent:true, symbol:['none','none'], label:{show:false}, z:1, animation:false,
    data: protTicks.map(t=>({yAxis:L2(t), lineStyle:{color:'#e3e3e3', width:1, type:'solid'}}))
      .concat(bMinor.map(t=>({yAxis:t, lineStyle:{color:'#f0f0f0', width:0.7, type:'solid'}})))
      .concat(proteins.map(p=>({xAxis:p, lineStyle:{color:'#e3e3e3', width:1, type:'solid'}})))},
  markArea:{silent:true, z:1, itemStyle:{color:'#ffff00'}, data:[[{yAxis:-1.04},{yAxis:-0.965}]]}});
series.push({type:'scatter', xAxisIndex:2, yAxisIndex:2, data:[], silent:true,
  markLine:{silent:true, symbol:['none','none'], label:{show:false}, z:2, animation:false,
    data:[{yAxis:L2(1.32), lineStyle:{color:'#b5b5b5', type:[5,3], width:1}},{yAxis:L2(0.76), lineStyle:{color:'#b5b5b5', type:[5,3], width:1}},{yAxis:0, lineStyle:{color:'#333', type:[5,3], width:1.1}}]}});
series.push({type:'custom', xAxisIndex:2, yAxisIndex:2, silent:true, z:3,
  data: proteins.map((p,i)=>[i, L2(protLow[i]), L2(protHigh[i])]),
  encode:{x:0, y:[1,2]},
  renderItem:(params, api)=>{
    const i = api.value(0);
    const lo = api.coord([i, api.value(1)]), hi = api.coord([i, api.value(2)]);
    const st = {stroke:'#000', lineWidth:1};
    return {type:'group', children:[
      {type:'line', shape:{x1:lo[0],y1:lo[1],x2:hi[0],y2:hi[1]}, style:st},
      {type:'line', shape:{x1:lo[0]-2,y1:lo[1],x2:lo[0]+2,y2:lo[1]}, style:st},
      {type:'line', shape:{x1:hi[0]-2,y1:hi[1],x2:hi[0]+2,y2:hi[1]}, style:st}]};
  }});
series.push({type:'scatter', xAxisIndex:2, yAxisIndex:2, z:4, silent:true, symbolSize:8.5,
  itemStyle:{color:'#000'}, data: proteins.map((p,i)=>[i, L2(protRatio[i])])});

// Panel C volcanoes
const xMajor = ratioTicks.map(L2);
const xMinor = [-0.70,-0.20,0.20,0.70];
const yMajor = pTicks.map(p=>-Math.log10(p));
const yMinor = [0.5,1.5,2.5];
vol.forEach((v,k) => {
  const gi = 3 + k;
  xAxes.push({type:'value', gridIndex:gi, min:v.xmin, max:v.xmax,
    name: k===4 ? 'DMD/Healthy Ratio of normalised counts' : '', nameLocation:'middle', nameGap:13,
    nameTextStyle:{fontFamily:FR, fontWeight:'bold', fontSize:9.8, color:'#222'},
    axisLine:{show:false}, splitLine:{show:false},
    axisTick:{show:true, length:2, customValues:xMajor, lineStyle:{color:'#666'}},
    axisLabel:{customValues:xMajor, formatter:x=>Math.pow(2,x).toFixed(2), fontFamily:FR, fontWeight:'bold', fontSize:8.3, color:'#333', margin:2}});
  yAxes.push({type:'value', gridIndex:gi, min:-0.15, max:3.16,
    name:'Adjusted pValue', nameLocation:'middle', nameRotate:90, nameGap:25, nameMoveOverlap:false,
    nameTextStyle:{fontFamily:FR, fontWeight:'bold', fontSize:9.8, color:'#222'},
    axisLine:{show:false}, splitLine:{show:false},
    axisTick:{show:true, length:2, customValues:yMajor, lineStyle:{color:'#666'}},
    axisLabel:{customValues:yMajor, formatter:y=>Math.pow(10,-y).toFixed(3), fontFamily:FR, fontWeight:'bold', fontSize:8.3, color:'#333', margin:3}});
  series.push({type:'scatter', xAxisIndex:gi, yAxisIndex:gi, data:v.ns, symbolSize:5, itemStyle:{color:'#000'}, silent:true, z:2, animation:false,
    markLine:{silent:true, symbol:['none','none'], label:{show:false}, z:1, animation:false,
      data: xMajor.map(x=>({xAxis:x, lineStyle:{color:'#e6e6e6', width:0.8, type:'solid'}}))
        .concat(xMinor.map(x=>({xAxis:x, lineStyle:{color:'#f1f1f1', width:0.6, type:'solid'}})))
        .concat(yMajor.map(y=>({yAxis:y, lineStyle:{color:'#e6e6e6', width:0.8, type:'solid'}})))
        .concat(yMinor.map(y=>({yAxis:y, lineStyle:{color:'#f1f1f1', width:0.6, type:'solid'}})))}});
  series.push({type:'scatter', xAxisIndex:gi, yAxisIndex:gi, data:v.sig, symbolSize:4.8, itemStyle:{color:'#ffa500'}, silent:true, z:3, animation:false,
    markLine:{silent:true, symbol:['none','none'], label:{show:false}, z:5, animation:false,
      lineStyle:{color:'#555', type:[2,2], width:1},
      data:[{xAxis:L2(0.76)},{xAxis:L2(1.32)},{yAxis:-Math.log10(0.05)}]}});
});

// Loose text and colour strips
const graphic = [
  {type:'text', x:1, y:4, style:{text:'A', font:'bold 25px "Liberation Sans", Arial', fill:'#000'}},
  {type:'text', x:1, y:522, style:{text:'B', font:'bold 25px "Liberation Sans", Arial', fill:'#000'}},
  {type:'text', x:231, y:0, style:{text:'C', font:'bold 25px "Liberation Sans", Arial', fill:'#000'}},
  {type:'text', x:121, y:541, style:{text:'Protein expression at D17', font:'bold 13px '+FA, fill:'#111', align:'center', verticalAlign:'middle'}},
  {type:'text', x:121, y:557, style:{text:'(TMT proteomics)', font:'bold 13px '+FA, fill:'#111', align:'center', verticalAlign:'middle'}}
];
vol.forEach((v,k) => {
  graphic.push({type:'rect', shape:{x:696, y:v.bt, width:10, height:v.bb-v.bt}, style:{fill:v.bar}, z:10});
  graphic.push({type:'text', x:692, y:v.grid.top+13, style:{text:volcanoLabels[k], font:'bold 12.5px '+FA, fill:'#9a9a9a', align:'right', verticalAlign:'middle'}, z:10});
});

const option = {
  animation:false,
  backgroundColor:'#fff',
  grid: grids, xAxis: xAxes, yAxis: yAxes, series: series, graphic: graphic,
  legend:[
    {data:compartments, left:68, top:29, orient:'vertical', icon:'rect', itemWidth:9, itemHeight:9, itemGap:2, selectedMode:false,
     textStyle:{fontFamily:FA, fontWeight:'bold', fontSize:11.5, color:'#1a1a1a', padding:[0,0,0,-2]}},
    {data:compartments.map(c=>c+' %'), left:65, top:272, orient:'vertical', itemWidth:26, itemHeight:10, itemGap:2, selectedMode:false,
     formatter:n=>n.replace(' %',''), textStyle:{fontFamily:FA, fontWeight:'bold', fontSize:11.5, color:'#1a1a1a'}}
  ]
};
const chart = echarts.init(document.getElementById('c'));
chart.setOption(option);
</script></body></html>
